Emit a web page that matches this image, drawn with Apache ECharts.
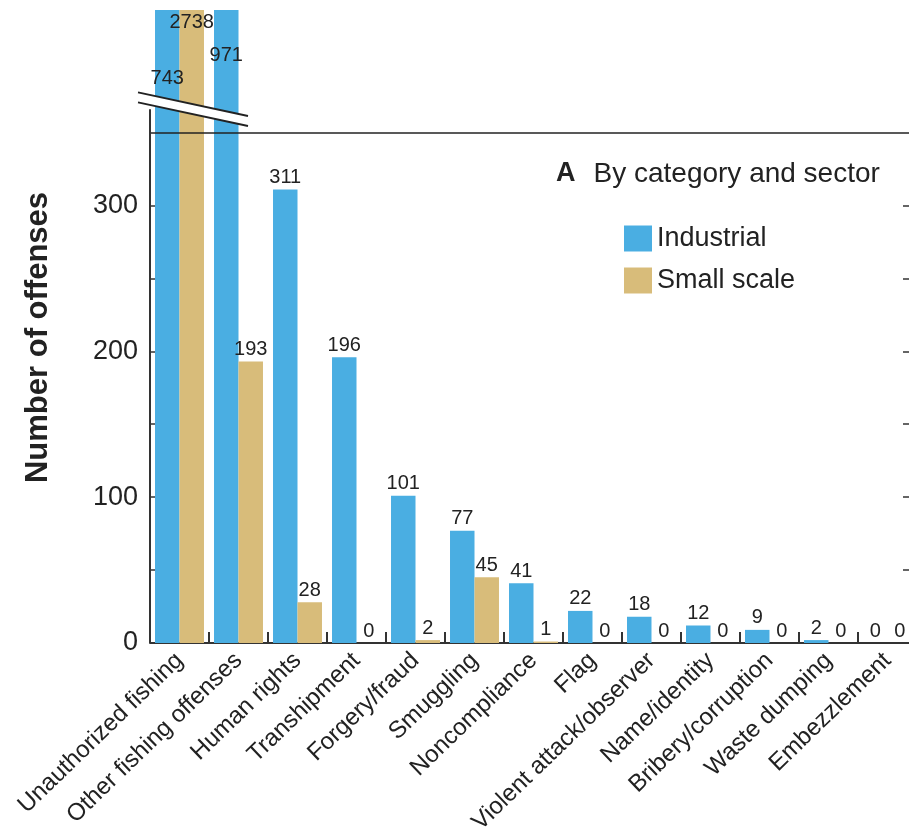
<!DOCTYPE html>
<html>
<head>
<meta charset="utf-8">
<script src="https://cdn.jsdelivr.net/npm/echarts@6/dist/echarts.min.js"></script>
<style>
  html, body { margin: 0; padding: 0; background: #fff; }
  #chart { width: 909px; height: 829px; }
</style>
</head>
<body>
<div id="chart"></div>
<script>
  const categories = ['Unauthorized fishing', 'Other fishing offenses', 'Human rights', 'Transhipment',
    'Forgery/fraud', 'Smuggling', 'Noncompliance', 'Flag', 'Violent attack/observer', 'Name/identity',
    'Bribery/corruption', 'Waste dumping', 'Embezzlement']
  const industrial = [743, 971, 311, 196, 101, 77, 41, 22, 18, 12, 9, 2, 0]
  const smallScale = [2738, 193, 28, 0, 2, 45, 1, 0, 0, 0, 0, 0, 0]
  const tickValues = [0, 50, 100, 150, 200, 250, 300]
  const labelValues = [0, 100, 200, 300]
  const rightTickValues = [50, 100, 150, 200, 250, 300]

  const cutValue = 350     // horizontal line where the axis is broken
  const axisTop = 434      // room above the break for the tall bars
  const breakValue = 366   // where the slash marks sit

  const BLUE = '#4aaee2'
  const TAN = '#d8bc7a'
  const FONT = 'Liberation Sans, Arial, sans-serif'

  // labels of the broken bars sit lower, inside the bar
  const brokenLabelDistance = { industrial: { 0: 58, 1: 35 }, small: { 0: 2 } }

  function barData(values, key) {
    return values.map((v, i) => {
      if (v > cutValue) {
        return {
          value: v,
          label: { position: 'insideTop', distance: brokenLabelDistance[key][i] }
        }
      }
      return v
    })
  }

  const myChart = echarts.init(document.getElementById('chart'))
  const option = {
    backgroundColor: '#fff',
    animation: false,
    title: {
      left: 551,
      top: 155,
      text: '{a|A}{b|By category and sector}',
      textStyle: {
        rich: {
          a: { fontFamily: FONT, fontSize: 27, fontWeight: 'bold', color: '#222', padding: [0, 18, 0, 0] },
          b: { fontFamily: FONT, fontSize: 28, fontWeight: 'normal', color: '#222' }
        }
      }
    },
    legend: {
      orient: 'vertical',
      left: 619,
      top: 220,
      itemWidth: 28,
      itemHeight: 26,
      itemGap: 15,
      icon: 'rect',
      textStyle: { fontFamily: FONT, fontSize: 27, color: '#222' },
      data: ['Industrial', 'Small scale']
    },
    grid: {
      left: 150,
      right: -8,
      top: 10,
      bottom: 186,
      containLabel: false,
      outerBoundsMode: 'none'
    },
    xAxis: {
      type: 'category',
      data: categories,
      axisLine: { lineStyle: { color: '#333', width: 2 } },
      axisTick: { show: true, inside: true, length: 11, lineStyle: { color: '#333', width: 2 } },
      axisLabel: {
        interval: 0,
        rotate: 44,
        margin: 14,
        fontFamily: FONT,
        fontSize: 24,
        color: '#222'
      }
    },
    yAxis: [{
      type: 'value',
      min: 0,
      max: axisTop,
      name: 'Number of offenses',
      nameLocation: 'middle',
      nameRotate: 90,
      nameGap: 96,
      nameTextStyle: { fontFamily: FONT, fontSize: 31, fontWeight: 'bold', color: '#222', padding: [0, 22, 0, 0] },
      axisLine: { show: false },
      splitLine: { show: false },
      axisTick: {
        show: true,
        inside: true,
        length: 11,
        customValues: tickValues,
        lineStyle: { color: '#333', width: 1.5 }
      },
      axisLabel: {
        customValues: labelValues,
        margin: 12,
        fontFamily: FONT,
        fontSize: 27,
        color: '#222'
      }
    }, {
      type: 'value',
      position: 'right',
      min: 0,
      max: axisTop,
      axisLine: { show: false },
      splitLine: { show: false },
      axisTick: {
        show: true,
        inside: true,
        length: 14,
        customValues: rightTickValues,
        lineStyle: { color: '#333', width: 1.5 }
      },
      axisLabel: { show: false }
    }],
    series: [{
      name: 'Industrial',
      type: 'bar',
      data: barData(industrial, 'industrial'),
      barGap: '0%',
      barCategoryGap: '17%',
      itemStyle: { color: BLUE },
      label: {
        show: true,
        position: 'top',
        distance: 2,
        fontFamily: FONT,
        fontSize: 20,
        color: '#222'
      },
      markLine: {
        silent: true,
        symbol: 'none',
        label: { show: false },
        lineStyle: { color: '#222', width: 1.5, type: 'solid' },
        data: [{ yAxis: cutValue }]
      }
    }, {
      name: 'Small scale',
      type: 'bar',
      data: barData(smallScale, 'small'),
      itemStyle: { color: TAN },
      label: {
        show: true,
        position: 'top',
        distance: 2,
        fontFamily: FONT,
        fontSize: 20,
        color: '#222'
      }
    }]
  }
  myChart.setOption(option)

  // left axis line and the break slashes, placed from the axis scale
  const gridLeft = myChart.getModel().getComponent('grid', 0).coordinateSystem.getRect().x
  const yZero = myChart.convertToPixel({ yAxisIndex: 0 }, 0)
  const yBreak = myChart.convertToPixel({ yAxisIndex: 0 }, breakValue)
  const cx = gridLeft + 43
  const dx = 55, slope = 0.215, half = 5
  myChart.setOption({
    graphic: [{
      type: 'line',
      z: 90,
      shape: { x1: gridLeft, y1: yZero, x2: gridLeft, y2: yBreak },
      style: { stroke: '#333', lineWidth: 2 }
    }, {
      type: 'polygon',
      z: 100,
      shape: {
        points: [
          [cx - dx, yBreak - half - dx * slope],
          [cx + dx, yBreak - half + dx * slope],
          [cx + dx, yBreak + half + dx * slope],
          [cx - dx, yBreak + half - dx * slope]
        ]
      },
      style: { fill: '#fff' }
    }, {
      type: 'line',
      z: 101,
      shape: { x1: cx - dx, y1: yBreak - half - dx * slope, x2: cx + dx, y2: yBreak - half + dx * slope },
      style: { stroke: '#222', lineWidth: 2 }
    }, {
      type: 'line',
      z: 101,
      shape: { x1: cx - dx, y1: yBreak + half - dx * slope, x2: cx + dx, y2: yBreak + half + dx * slope },
      style: { stroke: '#222', lineWidth: 2 }
    }]
  })

  window.addEventListener('resize', function () {
    myChart.resize()
  })
</script>
</body>
</html>
